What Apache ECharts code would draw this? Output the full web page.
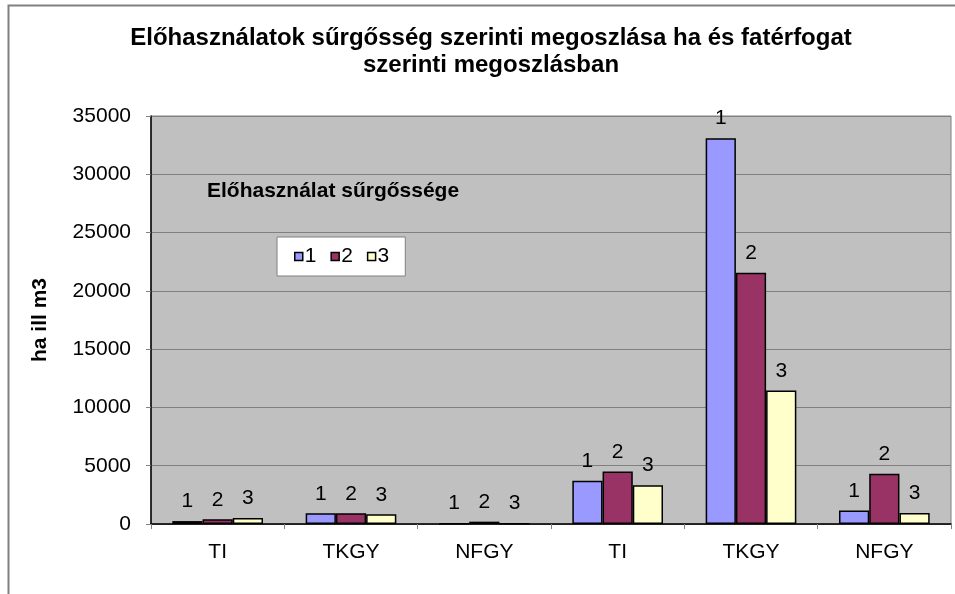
<!DOCTYPE html>
<html>
<head>
<meta charset="utf-8">
<script src="https://cdn.jsdelivr.net/npm/echarts@6/dist/echarts.min.js"></script>
<style>
html, body { margin: 0; padding: 0; background: #fff; }
#chart { width: 955px; height: 594px; }
</style>
</head>
<body>
<div id="chart"></div>
<script>
// kategóriák (ha, majd fatérfogat)
var categories = ['TI', 'TKGY', 'NFGY', 'TI', 'TKGY', 'NFGY']
var seriesNames = ['1', '2', '3']
var values1 = [250, 920, 30, 3720, 33100, 1150]
var values2 = [400, 920, 200, 4500, 21550, 4300]
var values3 = [520, 840, 30, 3330, 11450, 950]
var yTicks = [0, 5000, 10000, 15000, 20000, 25000, 30000, 35000]

var colors = ['#9999FF', '#993366', '#FFFFCC']
var font = 'Arial, "Liberation Sans", sans-serif'

function makeSeries(name, data) {
    return {
        name: name,
        type: 'bar',
        data: data,
        barGap: '0%',
        barCategoryGap: '32%',
        itemStyle: { borderColor: '#000', borderWidth: 1.5 },
        label: {
            show: true,
            position: 'top',
            distance: 9,
            formatter: '{a}',
            fontFamily: font,
            fontSize: 21,
            color: '#000'
        }
    }
}

var chart = echarts.init(document.getElementById('chart'))
var option = {
    animation: false,
    color: colors,
    title: [{
        text: 'Előhasználatok sűrgősség szerinti megoszlása ha és fatérfogat\nszerinti megoszlásban',
        left: 491,
        top: 25,
        padding: 0,
        textAlign: 'center',
        textStyle: { fontFamily: font, fontSize: 24, fontWeight: 'bold', color: '#000', lineHeight: 27 }
    }, {
        text: 'Előhasználat sűrgőssége',
        left: 207,
        top: 181,
        padding: 0,
        textStyle: { fontFamily: font, fontSize: 21, fontWeight: 'bold', color: '#000' }
    }],
    legend: {
        data: seriesNames,
        left: 277,
        top: 237,
        orient: 'horizontal',
        icon: 'rect',
        itemWidth: 8,
        itemHeight: 8,
        itemGap: 14,
        padding: [9, 16, 9, 17],
        backgroundColor: '#fff',
        borderColor: '#808080',
        borderWidth: 1,
        borderRadius: 0,
        itemStyle: { borderColor: '#000', borderWidth: 1.5 },
        textStyle: { fontFamily: font, fontSize: 21, color: '#000', padding: [0, 0, 0, -3] }
    },
    grid: {
        left: 151,
        right: 4,
        top: 116,
        bottom: 70,
        show: true,
        backgroundColor: '#C0C0C0',
        borderColor: '#808080',
        borderWidth: 1
    },
    xAxis: {
        type: 'category',
        data: categories,
        axisLine: { lineStyle: { color: '#000', width: 1.5 } },
        axisTick: { show: true, length: 5, lineStyle: { color: '#808080' } },
        axisLabel: { margin: 18, fontFamily: font, fontSize: 21, color: '#000' }
    },
    yAxis: {
        type: 'value',
        min: yTicks[0],
        max: yTicks[yTicks.length - 1],
        interval: 5000,
        name: 'ha ill m3',
        nameLocation: 'middle',
        nameGap: 100,
        nameRotate: 90,
        nameTextStyle: { fontFamily: font, fontSize: 21, fontWeight: 'bold', color: '#000' },
        axisLine: { show: true, lineStyle: { color: '#000', width: 1.5 } },
        axisTick: { show: true, length: 5, lineStyle: { color: '#808080' } },
        axisLabel: {
            margin: 20,
            fontFamily: font,
            fontSize: 21,
            color: '#000',
            formatter: function (v) { return String(v) }
        },
        splitLine: { show: true, lineStyle: { color: '#808080', width: 1 } }
    },
    graphic: [{
        type: 'rect',
        shape: { x: 8.5, y: 5.5, width: 960, height: 600 },
        style: { fill: 'none', stroke: '#808080', lineWidth: 2 },
        silent: true
    }],
    series: [
        makeSeries(seriesNames[0], values1),
        makeSeries(seriesNames[1], values2),
        makeSeries(seriesNames[2], values3)
    ]
}
chart.setOption(option)
</script>
</body>
</html>
